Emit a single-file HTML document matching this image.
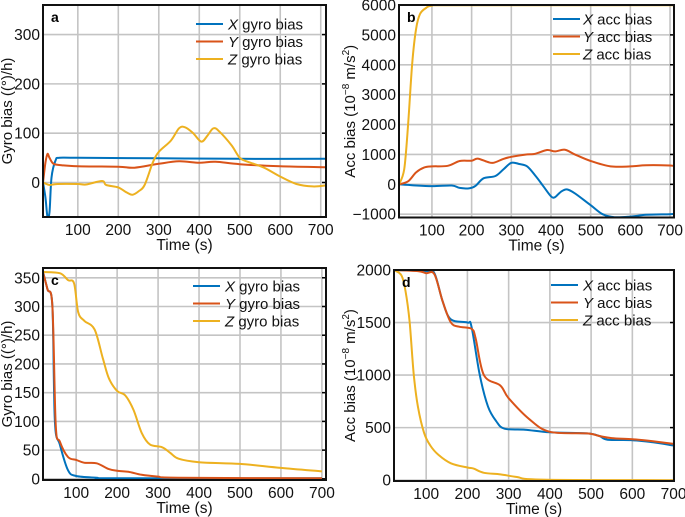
<!DOCTYPE html>
<html><head><meta charset="utf-8"><style>
body{margin:0;background:#fff;}
svg{display:block;font-family:"Liberation Sans",Arial,sans-serif;}
</style></head><body>
<svg id="c" width="685" height="517"></svg>
<script>
// Panel a: gyro bias (s, deg/h)
const aXt=[14,20,25,30,35,45,55,100,300,500,713];
const aXv=[0,-30,-70,-60,10,45,50,50,49,48,48];
const aYt=[14,20,25,30,40,60,100,200,240,300,350,400,440,500,600,713];
const aYv=[0,40,58,50,38,35,33,32,30,38,43,40,42,37,33,31];
const aZt=[14,20,30,50,100,120,160,170,200,220,235,250,265,285,300,330,350,365,385,405,420,435,450,480,500,520,560,600,640,680,713];
const aZv=[0,-2,-5,-3,-3,-4,3,-5,-10,-20,-25,-18,-5,40,62,85,110,112,100,83,95,110,103,75,50,42,30,12,-3,-8,-6];
// Panel b: acc bias
const bXt=[17,50,100,150,170,195,210,230,260,280,300,320,340,360,380,400,410,425,440,460,500,530,560,600,640,700,710];
const bXv=[0,-30,-60,-40,-120,-130,-50,200,280,500,720,680,600,300,-50,-400,-430,-250,-170,-300,-700,-1000,-1100,-1080,-1020,-1000,-980];
const bYt=[17,40,60,80,100,140,170,200,215,240,255,280,300,340,360,390,410,435,460,500,550,600,640,700,710];
const bYv=[0,100,400,560,600,620,780,790,860,750,720,850,920,1000,1020,1150,1100,1160,1000,780,600,600,640,630,600];
const bZt=[17,30,40,50,60,70,85,100,150,713];
const bZv=[0,500,2000,4000,5200,5700,5900,5980,5990,5990];
// Panel c
const cXt=[19,30,42,48,60,80,100,150,200,700];
const cXv=[360,330,300,100,60,15,5,2,1,1];
const cYt=[19,30,42,50,60,80,100,120,150,180,200,230,260,300,350,700];
const cYv=[360,330,300,95,65,38,33,28,27,17,14,12,7,4,2,1];
const cZt=[19,60,80,95,105,120,145,165,180,200,220,240,260,280,310,330,350,400,500,600,700];
const cZv=[360,358,346,340,290,275,260,210,175,153,145,120,80,60,55,45,35,29,26,19,13];
// Panel d
const dXt=[22,100,120,140,160,200,210,230,250,270,290,340,400,490,520,540,600,650,700];
const dXv=[2000,1990,1970,1700,1530,1500,1460,1000,700,560,490,480,455,445,420,385,380,360,330];
const dYt=[22,80,100,120,140,160,180,210,220,240,280,300,350,400,490,520,550,600,650,700];
const dYv=[2000,1990,1970,1960,1700,1500,1460,1440,1350,1000,900,780,580,460,445,420,400,390,370,345];
const dZt=[22,40,50,60,70,80,95,110,130,160,200,215,240,280,320,380,700];
const dZv=[2000,1950,1800,1500,1000,700,450,330,240,160,120,110,70,55,30,5,0];

const xTicks=[100,200,300,400,500,600,700];
const aYTicks=[0,100,200,300], bYTicks=[-1000,0,1000,2000,3000,4000,5000,6000];
const cYTicks=[0,50,100,150,200,250,300,350], dYTicks=[0,500,1000,1500,2000];
const gyroLabels=["X","Y","Z"], colors=["#0072BD","#D95319","#EDB120"];

const NS="http://www.w3.org/2000/svg", svg=document.getElementById('c');
function mk(tag,attrs,parent){const e=document.createElementNS(NS,tag);for(const k in attrs)e.setAttribute(k,attrs[k]);(parent||svg).appendChild(e);return e;}
function smooth(pts){
  let d='M'+pts[0][0].toFixed(1)+','+pts[0][1].toFixed(1);
  for(let i=0;i<pts.length-1;i++){
    const p0=pts[Math.max(0,i-1)],p1=pts[i],p2=pts[i+1],p3=pts[Math.min(pts.length-1,i+2)];
    const c1x=p1[0]+(p2[0]-p0[0])/6,c1y=p1[1]+(p2[1]-p0[1])/6;
    const c2x=p2[0]-(p3[0]-p1[0])/6,c2y=p2[1]-(p3[1]-p1[1])/6;
    d+='C'+c1x.toFixed(1)+','+c1y.toFixed(1)+' '+c2x.toFixed(1)+','+c2y.toFixed(1)+' '+p2[0].toFixed(1)+','+p2[1].toFixed(1);
  }
  return d;
}

function panel(p){
  const g=mk('g',{});
  
  
  const sx=v=>p.L+(v-p.x0)/(p.x1-p.x0)*(p.R-p.L);
  const sy=v=>p.B-(v-p.y0)/(p.y1-p.y0)*(p.B-p.T);
  xTicks.forEach(t=>{const l=mk('line',{x1:sx(t),x2:sx(t),y1:p.T,y2:p.B,stroke:'#c4c4c4','stroke-width':1.6},g);
    
    const tx=mk('text',{x:sx(t),y:p.B+18,'text-anchor':'middle','font-size':15.5,fill:'#111'},g);tx.textContent=t;
    });
  p.yt.forEach(t=>{const y=sy(t);const l=mk('line',{x1:p.L,x2:p.R,y1:y,y2:y,stroke:'#c4c4c4','stroke-width':1.6},g);
    
    mk('line',{x1:p.R-4,x2:p.R,y1:y,y2:y,stroke:'#000','stroke-width':1.5},g);
    const tx=mk('text',{x:p.L-3,y:y+5.5,'text-anchor':'end','font-size':15.5,fill:'#111'},g);tx.textContent=(t<0?'\u2212'+(-t):t);
    });
  const clip=mk('clipPath',{id:'cl'+p.id},g);mk('rect',{x:p.L,y:p.T,width:p.R-p.L,height:p.B-p.T},clip);
  p.series.forEach((s,i)=>{
    const pts=s[0].map((t,j)=>[sx(t),sy(s[1][j])]);
    const pa=mk('path',{d:smooth(pts),fill:'none',stroke:colors[i],'stroke-width':2,'stroke-linejoin':'round','clip-path':'url(#cl'+p.id+')'},g);
    
    
  });
  const box=mk('rect',{x:p.L,y:p.T,width:p.R-p.L,height:p.B-p.T,fill:'none',stroke:'#111','stroke-width':2},g);
  
  const lt=mk('text',{x:p.L+8,y:p.T+17,'font-size':14,'font-weight':'bold'},g);lt.textContent=p.id;
  
  gyroLabels.forEach((n,i)=>{const y=p.lg[2]+i*17.5;
    const l=mk('line',{x1:p.lg[0],x2:p.lg[0]+27,y1:y,y2:y,stroke:colors[i],'stroke-width':2},g);
    
    const t=mk('text',{x:p.lg[1],y:y+5.5,'font-size':15,fill:'#111'},g);
    t.innerHTML='<tspan font-style="italic">'+n+'</tspan> '+p.kind+' bias';
    });
  const xl=mk('text',{x:(p.L+p.R)/2,y:p.B+33,'text-anchor':'middle','font-size':15.5,fill:'#111'},g);xl.textContent='Time (s)';
  
  const cy=(p.T+p.B)/2;
  const yl=mk('text',{x:p.ylx,y:cy,'text-anchor':'middle','font-size':15,fill:'#111',transform:'rotate(-90 '+p.ylx+' '+cy+')'},g);
  yl.innerHTML=p.ylab;
  
}
const accLab='Acc bias (10<tspan font-size="10" dy="-6">\u22128</tspan><tspan dy="6"> m/s</tspan><tspan font-size="10" dy="-6">2</tspan><tspan dy="6">)</tspan>';
panel({id:'a',kind:'gyro',L:43,R:326,T:5,B:217,x0:14,x1:713,y0:-70,y1:360,yt:aYTicks,lg:[196,228,24],ylx:12,ylab:'Gyro bias ((\u00b0)/h)',
  series:[[aXt,aXv],[aYt,aYv],[aZt,aZv]]});
panel({id:'b',kind:'acc',L:399,R:674,T:5,B:217.5,x0:17,x1:710,y0:-1110,y1:6000,yt:bYTicks,lg:[553,583,19],ylx:355,ylab:accLab,
  series:[[bXt,bXv],[bYt,bYv],[bZt,bZv]]});
panel({id:'c',kind:'gyro',L:43,R:326,T:268,B:480,x0:19,x1:710,y0:-2,y1:367,yt:cYTicks,lg:[193,225,286],ylx:12,ylab:'Gyro bias ((\u00b0)/h)',
  series:[[cXt,cXv],[cYt,cYv],[cZt,cZv]]});
panel({id:'d',kind:'acc',L:394,R:674,T:270,B:481,x0:22,x1:701,y0:-8,y1:2000,yt:dYTicks,lg:[551,583,285],ylx:355,ylab:accLab,
  series:[[dXt,dXv],[dYt,dYv],[dZt,dZv]]});
</script>
</body></html>
